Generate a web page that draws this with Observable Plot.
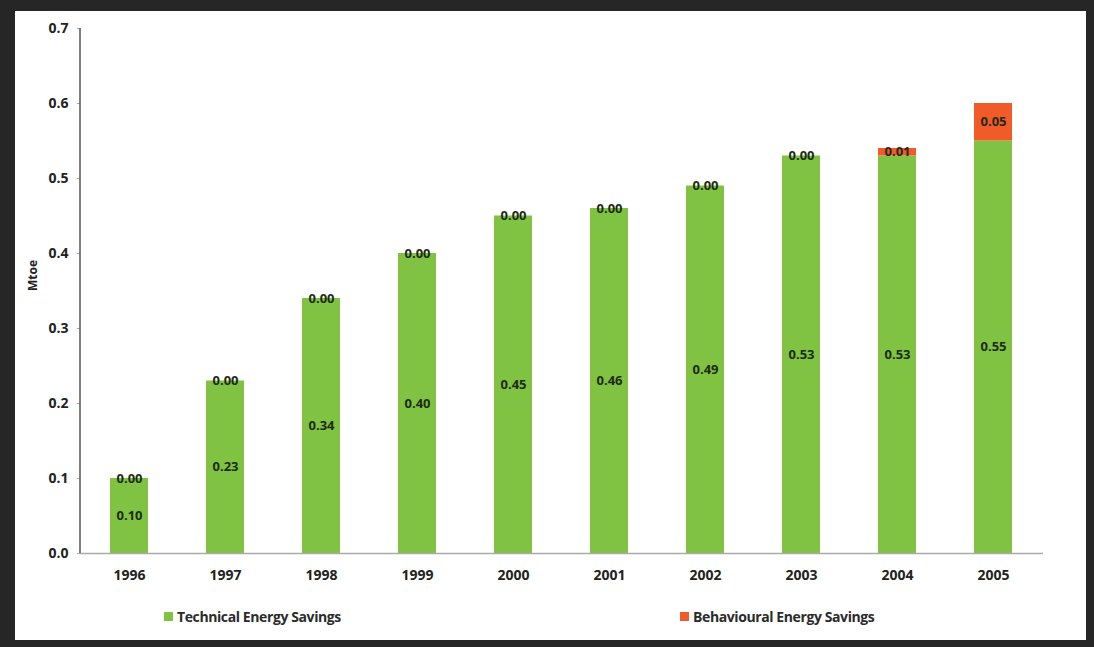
<!DOCTYPE html>
<html>
<head>
<meta charset="utf-8">
<script src="https://cdn.jsdelivr.net/npm/d3@7"></script>
<script src="https://cdn.jsdelivr.net/npm/@observablehq/plot@0.6"></script>
<style>
  html, body { margin: 0; padding: 0; background: #262626; }
  body { width: 1094px; height: 647px; overflow: hidden; position: relative; font-family: "Open Sans", sans-serif; }
  #panel { position: absolute; left: 15px; top: 11px; width: 1071px; height: 629px; background: #fff; }
  #chart { position: absolute; left: 0; top: 0; }
  .legend { position: absolute; top: 596px; font-size: 14px; font-weight: 700; color: #2b2b2b; letter-spacing: -0.4px; display: flex; align-items: center; }
  .legend .sw { width: 9px; height: 9px; margin-right: 4px; }
</style>
</head>
<body>
<div id="panel">
  <div id="chart"></div>
  <div class="legend" style="left:149px"><span class="sw" style="background:#80c342"></span>Technical Energy Savings</div>
  <div class="legend" style="left:665px"><span class="sw" style="background:#f15a29"></span>Behavioural Energy Savings</div>
</div>
<script>
// Annual energy savings (Mtoe), split into technical and behavioural parts
const years = ["1996", "1997", "1998", "1999", "2000", "2001", "2002", "2003", "2004", "2005"];
const technical = [0.10, 0.23, 0.34, 0.40, 0.45, 0.46, 0.49, 0.53, 0.53, 0.55];
const behavioural = [0.00, 0.00, 0.00, 0.00, 0.00, 0.00, 0.00, 0.00, 0.01, 0.05];
const seriesNames = ["Technical Energy Savings", "Behavioural Energy Savings"];
const seriesColors = ["#80c342", "#f15a29"];
const yTicks = [0, 0.1, 0.2, 0.3, 0.4, 0.5, 0.6, 0.7];

const rows = [];
years.forEach((yr, i) => {
  rows.push({year: yr, series: seriesNames[0], value: technical[i]});
  rows.push({year: yr, series: seriesNames[1], value: behavioural[i]});
});

const chart = Plot.plot({
  width: 1071,
  height: 590,
  marginTop: 17,
  marginBottom: 48,
  marginLeft: 65,
  marginRight: 43,
  style: {fontFamily: "Open Sans, sans-serif", fontSize: "14px", fontWeight: 600, color: "#222", background: "white"},
  x: {domain: years, paddingInner: 0.6, paddingOuter: 0.3, label: null},
  y: {domain: [0, 0.7], label: null},
  color: {domain: seriesNames, range: seriesColors},
  marks: [
    Plot.barY(rows, {x: "year", y: "value", fill: "series", order: seriesNames}),
    Plot.text(rows, Plot.stackY({
      x: "year", y: "value", z: "series", order: seriesNames,
      text: d => d.value.toFixed(2),
      fill: "#1e2a12", fontSize: 13, fontWeight: 700
    })),
    Plot.axisX({tickSize: 0, tickPadding: 17, fontSize: 14, fontWeight: 700}),
    Plot.axisY({ticks: yTicks, tickFormat: d => d.toFixed(1), tickSize: 3, tickPadding: 9,
      stroke: "#aaa", fontSize: 14, fontWeight: 700, label: null}),
    Plot.ruleY([0], {stroke: "#aaa", strokeWidth: 1.5}),
    Plot.text(["Mtoe"], {frameAnchor: "left", rotate: -90, dx: -47, fontSize: 12, fontWeight: 700, fill: "#222"})
  ]
});

// vertical axis line along the left edge of the plotting frame
const xs = chart.scale("x").range;
const ys = chart.scale("y").range;
d3.select(chart).append("line")
  .attr("x1", xs[0]).attr("x2", xs[0])
  .attr("y1", ys[0]).attr("y2", ys[1])
  .attr("stroke", "#555").attr("stroke-width", 1.5);
// axis tick text colour
d3.select(chart).selectAll("g[aria-label='y-axis tick label'] text, g[aria-label='x-axis tick label'] text").attr("fill", "#222");

document.getElementById("chart").appendChild(chart);
</script>
</body>
</html>
